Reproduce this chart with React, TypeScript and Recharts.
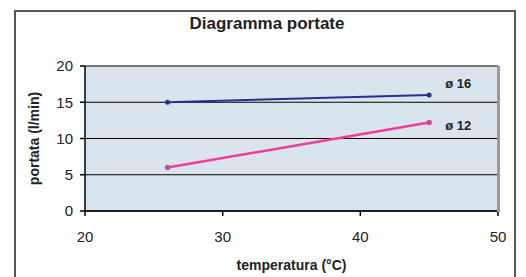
import { CartesianGrid, Line, LineChart, XAxis, YAxis, Label } from 'recharts';

const temps16 = [26, 45];
const flow16 = [15, 16];
const temps12 = [26, 45];
const flow12 = [6, 12.2];
const xTicks = [20, 30, 40, 50];
const yTicks = [0, 5, 10, 15, 20];

const d16 = temps16.map((t, i) => ({ t, v: flow16[i] }));
const d12 = temps12.map((t, i) => ({ t, v: flow12[i] }));

const font = '"Liberation Sans", Arial, sans-serif';

const endLabel = (text: string, dy: number, last: number) => (props: any) => {
  if (props.index !== last) return null;
  return (
    <text x={props.x + 16} y={props.y + dy} fontFamily={font} fontWeight='bold' fontSize={13} fill='#222' dominantBaseline='middle'>
      {text}
    </text>
  );
};

const App = () => (
  <div style={{ position: 'absolute', left: 0, top: 0, width: 526, height: 277, background: '#fff', overflow: 'hidden' }}>
    <div style={{ position: 'absolute', left: 14, top: 10, width: 502, height: 300, border: '2px solid #555', boxSizing: 'border-box' }} />
    <div style={{ position: 'absolute', left: 0, top: 14, width: 534, textAlign: 'center', fontFamily: '"Liberation Sans Narrow", "Liberation Sans", sans-serif', fontWeight: 'bold', fontSize: 17, color: '#222' }}>
      Diagramma portate
    </div>
    <div style={{ position: 'absolute', left: 0, top: 0 }}>
      <LineChart width={526} height={277} margin={{ top: 66, right: 28, left: 45, bottom: 10 }}>
        <CartesianGrid vertical={false} stroke='#000' strokeWidth={1.2} fill='#d9e4ec' />
        <XAxis
          type='number'
          dataKey='t'
          domain={[20, 50]}
          ticks={xTicks}
          height={56}
          stroke='#000'
          strokeWidth={1.5}
          tickSize={5}
          tickMargin={15}
          tick={{ fill: '#222', fontSize: 15, fontFamily: font }}
          allowDuplicatedCategory={false}
        >
          <Label value='temperatura (°C)' position='insideBottom' offset={-3} style={{ fontFamily: font, fontWeight: 'bold', fontSize: 14, fill: '#222' }} />
        </XAxis>
        <YAxis
          type='number'
          domain={[0, 20]}
          ticks={yTicks}
          width={40}
          stroke='#000'
          strokeWidth={1.5}
          tickSize={5}
          tickMargin={7}
          tick={{ fill: '#222', fontSize: 15, fontFamily: font }}
        >
          <Label value='portata (l/min)' angle={-90} position='insideLeft' offset={-11} style={{ textAnchor: 'middle', fontFamily: font, fontWeight: 'bold', fontSize: 14, fill: '#222' }} />
        </YAxis>
        <Line data={d16} dataKey='v' stroke='#2b2f8f' strokeWidth={2} dot={{ r: 1.5, fill: '#2b2f8f', stroke: '#2b2f8f' }} isAnimationActive={false} label={endLabel('ø 16', -10, d16.length - 1)} />
        <Line data={d12} dataKey='v' stroke='#ee3e95' strokeWidth={2.5} dot={{ r: 1.5, fill: '#c94aa0', stroke: '#c94aa0' }} isAnimationActive={false} label={endLabel('ø 12', 4, d12.length - 1)} />
      </LineChart>
    </div>
    <div style={{ position: 'absolute', left: 497, top: 66, width: 3, height: 146, background: '#999' }} />
  </div>
);

export default App;
